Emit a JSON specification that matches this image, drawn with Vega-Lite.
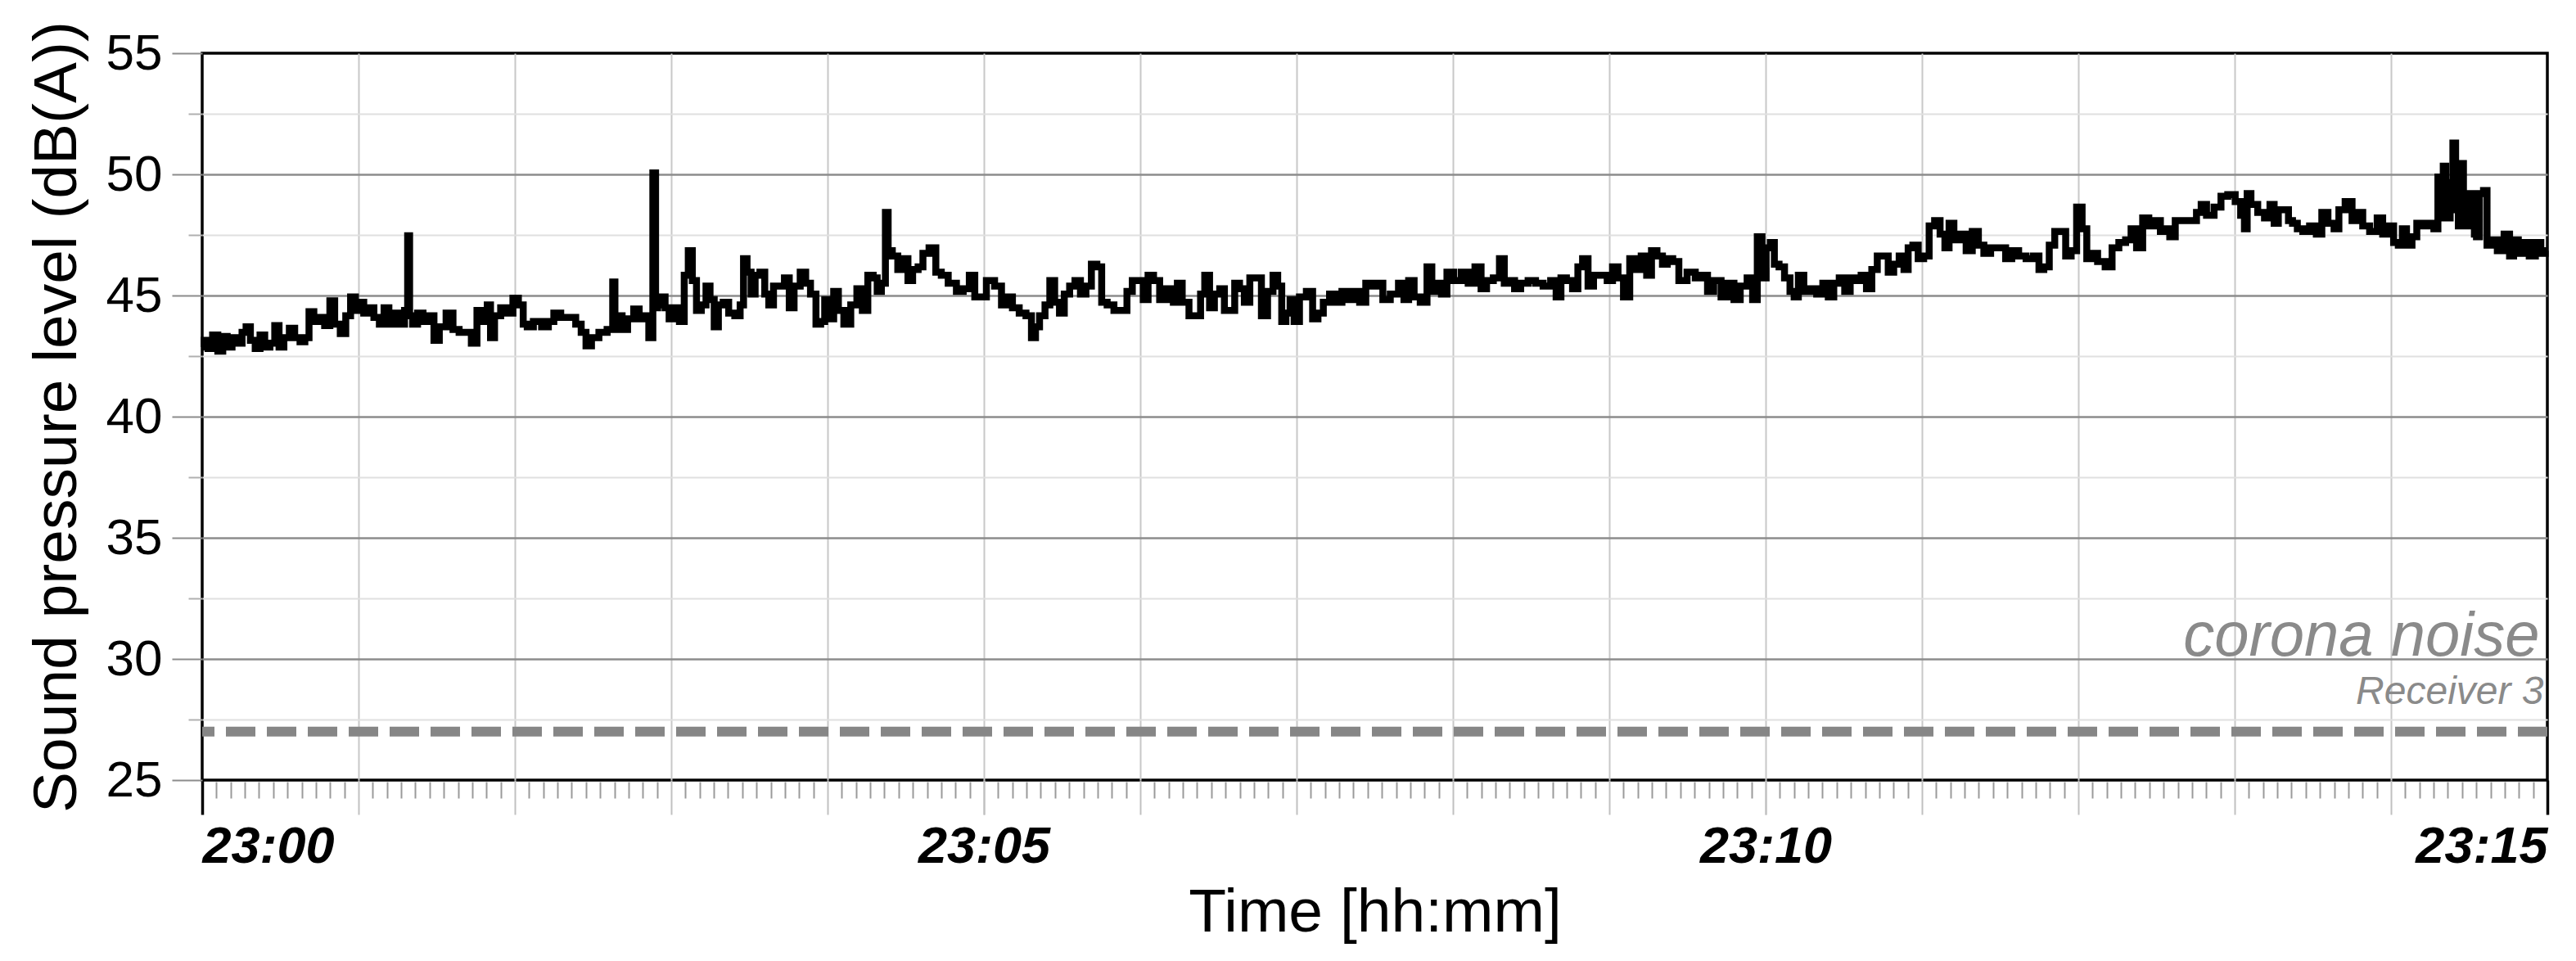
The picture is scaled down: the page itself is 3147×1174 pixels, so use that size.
{
"$schema": "https://vega.github.io/schema/vega-lite/v6.json",
"width": 2865, "height": 888,
"autosize": {"type": "none"},
"padding": {"left": 247, "top": 65, "right": 35, "bottom": 221},
"background": "white",
"config": {"view": {"stroke": "black", "strokeWidth": 3.5}, "font": "Liberation Sans", "axis": {"labelFont": "Liberation Sans", "titleFont": "Liberation Sans"}},
"datasets": {"spl": [
{"t":0,"v":42.87},{"t":1.5,"v":43.15},{"t":3,"v":42.81},{"t":5,"v":43.37},{"t":7,"v":42.70},{"t":8.8,"v":43.31},{"t":10.4,"v":42.87},{"t":12.5,"v":43.26},{"t":14.6,"v":43.03},{"t":16,"v":43.48},{"t":17.7,"v":43.71},{"t":19.3,"v":43.15},{"t":21.4,"v":42.81},{"t":23,"v":43.37},{"t":25,"v":42.87},{"t":27,"v":43.03},{"t":28.7,"v":43.76},{"t":30.3,"v":42.87},{"t":32.4,"v":43.26},{"t":34.5,"v":43.65},{"t":36.5,"v":43.26},{"t":38.6,"v":43.09},{"t":40.2,"v":43.26},{"t":41.8,"v":44.33},{"t":43.9,"v":43.93},{"t":46,"v":44.10},{"t":48,"v":43.76},{"t":50,"v":44.78},{"t":51.7,"v":43.82},{"t":54.3,"v":43.43},{"t":55.9,"v":44.16},{"t":58,"v":44.94},{"t":59.6,"v":44.38},{"t":61.2,"v":44.72},{"t":62.8,"v":44.27},{"t":64.8,"v":44.49},{"t":67,"v":44.10},{"t":69,"v":43.82},{"t":70.6,"v":44.49},{"t":72.7,"v":43.82},{"t":74.7,"v":44.27},{"t":76.9,"v":43.82},{"t":78.4,"v":44.38},{"t":79.3,"v":47.47},{"t":79.9,"v":44.16},{"t":81.6,"v":43.82},{"t":83.7,"v":44.27},{"t":85.8,"v":43.93},{"t":87.9,"v":44.16},{"t":90,"v":43.15},{"t":92,"v":43.71},{"t":95.2,"v":44.27},{"t":97.3,"v":43.60},{"t":99.9,"v":43.48},{"t":102.5,"v":43.48},{"t":104.1,"v":43.03},{"t":106.8,"v":44.38},{"t":108.9,"v":43.93},{"t":109.9,"v":44.61},{"t":111.4,"v":43.26},{"t":113,"v":44.16},{"t":116.1,"v":44.49},{"t":118.2,"v":44.27},{"t":120.3,"v":44.89},{"t":122.4,"v":44.61},{"t":124,"v":43.82},{"t":125.5,"v":43.71},{"t":128.7,"v":43.93},{"t":131.8,"v":43.71},{"t":133.9,"v":43.93},{"t":136,"v":44.27},{"t":139.2,"v":44.10},{"t":142.3,"v":44.10},{"t":144.4,"v":43.82},{"t":146.5,"v":43.48},{"t":148.1,"v":42.92},{"t":150.7,"v":43.26},{"t":153.8,"v":43.48},{"t":157,"v":43.60},{"t":158.1,"v":45.56},{"t":158.7,"v":43.60},{"t":160.1,"v":44.16},{"t":162.2,"v":43.60},{"t":164.3,"v":44.04},{"t":166.9,"v":44.44},{"t":168.5,"v":44.04},{"t":170.6,"v":44.16},{"t":172.2,"v":43.26},{"t":173.7,"v":50.06},{"t":174.3,"v":44.49},{"t":175.3,"v":44.61},{"t":176.9,"v":44.94},{"t":178.4,"v":44.49},{"t":180,"v":44.04},{"t":182.1,"v":44.49},{"t":184.2,"v":43.93},{"t":185.8,"v":45.84},{"t":187.3,"v":46.85},{"t":188.9,"v":45.62},{"t":190.5,"v":44.38},{"t":192.6,"v":44.61},{"t":194.1,"v":45.39},{"t":195.7,"v":44.83},{"t":197.3,"v":43.71},{"t":198.9,"v":44.61},{"t":201,"v":44.72},{"t":203.1,"v":44.27},{"t":205.7,"v":44.16},{"t":207.2,"v":44.61},{"t":208.3,"v":46.52},{"t":209.9,"v":45.96},{"t":211.4,"v":45.06},{"t":213,"v":45.84},{"t":215.1,"v":45.96},{"t":216.7,"v":45.06},{"t":218.2,"v":44.61},{"t":220.3,"v":45.39},{"t":222.4,"v":45.39},{"t":224.5,"v":45.73},{"t":226.1,"v":44.49},{"t":228.2,"v":45.39},{"t":230.8,"v":45.96},{"t":232.4,"v":45.51},{"t":234.5,"v":45.06},{"t":236.6,"v":43.82},{"t":238.1,"v":43.93},{"t":239.7,"v":44.83},{"t":241.3,"v":44.04},{"t":243.4,"v":45.17},{"t":244.9,"v":44.38},{"t":247.6,"v":43.82},{"t":250.2,"v":44.61},{"t":252.3,"v":45.28},{"t":254.4,"v":44.38},{"t":256.5,"v":45.84},{"t":258.5,"v":45.73},{"t":259.6,"v":45.17},{"t":261.7,"v":45.51},{"t":262.7,"v":48.43},{"t":263.8,"v":46.85},{"t":265.9,"v":46.63},{"t":268,"v":46.07},{"t":270.1,"v":46.52},{"t":271.6,"v":45.62},{"t":273.7,"v":46.07},{"t":275.8,"v":46.18},{"t":277.4,"v":46.74},{"t":280.5,"v":46.97},{"t":282.6,"v":45.96},{"t":284.7,"v":45.84},{"t":287.9,"v":45.51},{"t":291,"v":45.17},{"t":293.1,"v":45.28},{"t":295.7,"v":45.84},{"t":297.3,"v":44.94},{"t":299.4,"v":44.94},{"t":302.5,"v":45.62},{"t":305.7,"v":45.39},{"t":307.8,"v":44.61},{"t":309.9,"v":44.94},{"t":312,"v":44.49},{"t":315.1,"v":44.27},{"t":317.2,"v":44.16},{"t":319.3,"v":43.26},{"t":320.3,"v":43.71},{"t":322.4,"v":44.16},{"t":324.5,"v":44.61},{"t":326.1,"v":45.62},{"t":328.2,"v":44.72},{"t":329.8,"v":44.27},{"t":331.9,"v":45.06},{"t":333.9,"v":45.39},{"t":336,"v":45.62},{"t":338.1,"v":45.06},{"t":340.2,"v":45.39},{"t":342.3,"v":46.29},{"t":344.4,"v":46.18},{"t":346,"v":44.72},{"t":348.6,"v":44.61},{"t":351.2,"v":44.38},{"t":353.9,"v":44.38},{"t":355.9,"v":45.17},{"t":358,"v":45.62},{"t":360.1,"v":45.62},{"t":362.2,"v":44.83},{"t":363.8,"v":45.84},{"t":366.4,"v":45.62},{"t":368.5,"v":44.83},{"t":371.7,"v":45.28},{"t":373.7,"v":44.72},{"t":374.8,"v":45.51},{"t":377.4,"v":44.72},{"t":380,"v":44.16},{"t":382.6,"v":44.16},{"t":383.7,"v":45.06},{"t":385.8,"v":45.84},{"t":387.4,"v":44.49},{"t":389.5,"v":45.06},{"t":391.5,"v":45.28},{"t":393.1,"v":44.38},{"t":395.2,"v":44.38},{"t":397.3,"v":45.51},{"t":398.9,"v":45.28},{"t":401,"v":44.72},{"t":403.1,"v":45.73},{"t":405.2,"v":45.73},{"t":407.8,"v":44.16},{"t":409.9,"v":45.17},{"t":412,"v":45.84},{"t":413.5,"v":45.39},{"t":415.1,"v":43.93},{"t":416.7,"v":44.27},{"t":418.3,"v":44.83},{"t":419.8,"v":43.93},{"t":422.4,"v":44.94},{"t":425.1,"v":45.17},{"t":427.2,"v":44.04},{"t":429.2,"v":44.27},{"t":431.3,"v":44.72},{"t":434,"v":45.06},{"t":436.1,"v":44.72},{"t":438.7,"v":45.17},{"t":440.8,"v":44.83},{"t":442.9,"v":45.17},{"t":445.5,"v":44.72},{"t":447.6,"v":45.51},{"t":450.2,"v":45.39},{"t":451.8,"v":45.51},{"t":454.4,"v":44.83},{"t":457.5,"v":45.06},{"t":460.7,"v":45.51},{"t":461.7,"v":44.83},{"t":464.3,"v":45.62},{"t":465.9,"v":44.94},{"t":469,"v":44.72},{"t":471.1,"v":46.18},{"t":472.7,"v":45.17},{"t":474.8,"v":45.51},{"t":476.4,"v":45.06},{"t":479,"v":45.96},{"t":481.6,"v":45.62},{"t":484.8,"v":45.96},{"t":486.9,"v":45.51},{"t":490,"v":46.18},{"t":491.6,"v":45.28},{"t":494.2,"v":45.62},{"t":496.8,"v":45.73},{"t":498.9,"v":46.52},{"t":500.5,"v":45.51},{"t":502.6,"v":45.62},{"t":504.7,"v":45.28},{"t":507.3,"v":45.51},{"t":510.4,"v":45.62},{"t":513,"v":45.51},{"t":516.2,"v":45.39},{"t":518.8,"v":45.62},{"t":520.4,"v":44.94},{"t":522.5,"v":45.73},{"t":524.6,"v":45.62},{"t":527.2,"v":45.28},{"t":528.7,"v":46.18},{"t":530.8,"v":46.52},{"t":532.9,"v":45.39},{"t":535,"v":45.84},{"t":538.2,"v":45.84},{"t":540.2,"v":45.62},{"t":542.3,"v":46.18},{"t":544.4,"v":45.73},{"t":546.5,"v":44.94},{"t":549.2,"v":46.52},{"t":551.2,"v":46.07},{"t":553.3,"v":46.63},{"t":555.4,"v":45.84},{"t":557,"v":46.85},{"t":559.6,"v":46.63},{"t":561.2,"v":46.29},{"t":563.3,"v":46.52},{"t":565.4,"v":46.40},{"t":568,"v":45.62},{"t":571.7,"v":45.96},{"t":574.3,"v":45.73},{"t":576.9,"v":45.84},{"t":578.5,"v":45.17},{"t":581.6,"v":45.62},{"t":584.2,"v":44.94},{"t":586.8,"v":45.51},{"t":588.9,"v":44.83},{"t":591.6,"v":45.39},{"t":594.2,"v":45.73},{"t":595.8,"v":44.83},{"t":597.8,"v":47.42},{"t":599.4,"v":45.73},{"t":601,"v":46.97},{"t":602.6,"v":47.19},{"t":604.1,"v":46.29},{"t":606.2,"v":46.18},{"t":608.3,"v":45.73},{"t":610.4,"v":45.17},{"t":611.5,"v":44.94},{"t":613.6,"v":45.84},{"t":615.7,"v":45.17},{"t":618.3,"v":45.28},{"t":620.9,"v":45.06},{"t":623,"v":45.51},{"t":625.1,"v":44.94},{"t":627.2,"v":45.51},{"t":629.3,"v":45.73},{"t":631.4,"v":45.17},{"t":633.5,"v":45.73},{"t":635.6,"v":45.62},{"t":637.7,"v":45.84},{"t":639.7,"v":45.28},{"t":641.8,"v":46.07},{"t":643.9,"v":46.63},{"t":646,"v":46.63},{"t":648.1,"v":45.96},{"t":650.2,"v":46.29},{"t":652.3,"v":46.63},{"t":653.9,"v":46.07},{"t":655.5,"v":46.97},{"t":657.5,"v":47.08},{"t":659.6,"v":46.52},{"t":661.7,"v":46.63},{"t":663.8,"v":47.87},{"t":665.9,"v":48.09},{"t":668,"v":47.53},{"t":669.6,"v":46.97},{"t":671.2,"v":47.98},{"t":673.3,"v":47.30},{"t":675.9,"v":47.53},{"t":678,"v":46.85},{"t":680.6,"v":47.64},{"t":682.7,"v":47.08},{"t":684.8,"v":46.74},{"t":687.9,"v":46.97},{"t":691.1,"v":46.97},{"t":693.1,"v":46.52},{"t":695.8,"v":46.85},{"t":698.4,"v":46.63},{"t":701.5,"v":46.52},{"t":704.1,"v":46.63},{"t":705.7,"v":46.07},{"t":707.8,"v":46.18},{"t":709.9,"v":47.08},{"t":712,"v":47.64},{"t":714.1,"v":47.64},{"t":716.2,"v":46.63},{"t":718.3,"v":46.85},{"t":720.4,"v":48.65},{"t":722.5,"v":47.75},{"t":724,"v":46.52},{"t":726.1,"v":46.74},{"t":728.7,"v":46.40},{"t":731.9,"v":46.18},{"t":734,"v":46.97},{"t":737.1,"v":47.19},{"t":739.2,"v":47.30},{"t":741.3,"v":47.75},{"t":743.4,"v":46.97},{"t":746,"v":48.20},{"t":748.1,"v":47.87},{"t":750.2,"v":48.09},{"t":752.8,"v":47.64},{"t":753.8,"v":47.75},{"t":756.4,"v":47.42},{"t":758,"v":48.09},{"t":761.1,"v":48.09},{"t":764.3,"v":48.09},{"t":766.4,"v":48.43},{"t":767.9,"v":48.76},{"t":770.5,"v":48.31},{"t":773.7,"v":48.65},{"t":775.8,"v":49.10},{"t":778.9,"v":49.16},{"t":781.5,"v":48.88},{"t":783.1,"v":48.31},{"t":784.4,"v":47.75},{"t":785.2,"v":49.21},{"t":787.3,"v":48.76},{"t":790.4,"v":48.43},{"t":792.5,"v":48.20},{"t":794.6,"v":48.76},{"t":795.7,"v":47.98},{"t":797.8,"v":48.54},{"t":799.9,"v":48.54},{"t":801.4,"v":48.09},{"t":803,"v":47.98},{"t":805.1,"v":47.75},{"t":807.2,"v":47.64},{"t":810.3,"v":47.87},{"t":812.4,"v":47.53},{"t":814.5,"v":48.43},{"t":817.1,"v":47.98},{"t":819.2,"v":47.75},{"t":820.8,"v":48.54},{"t":824,"v":48.88},{"t":826.1,"v":48.09},{"t":828.1,"v":48.43},{"t":830.2,"v":47.87},{"t":833.4,"v":47.64},{"t":836,"v":48.20},{"t":837.6,"v":47.53},{"t":840.2,"v":47.87},{"t":841.8,"v":47.19},{"t":843.8,"v":47.08},{"t":844.9,"v":47.75},{"t":847,"v":47.08},{"t":849.1,"v":47.42},{"t":850.7,"v":47.98},{"t":853.3,"v":47.87},{"t":855.4,"v":47.98},{"t":857.5,"v":47.75},{"t":858.5,"v":49.89},{"t":859.5,"v":48.20},{"t":860.6,"v":50.34},{"t":861.4,"v":49.10},{"t":862.2,"v":48.20},{"t":863.2,"v":49.66},{"t":864.3,"v":51.29},{"t":865.3,"v":48.54},{"t":866.4,"v":47.87},{"t":867.4,"v":50.45},{"t":868.2,"v":48.76},{"t":869,"v":49.21},{"t":870,"v":47.87},{"t":871.6,"v":49.21},{"t":872.4,"v":47.53},{"t":873.2,"v":47.42},{"t":874.7,"v":49.21},{"t":876.3,"v":49.33},{"t":877.4,"v":47.08},{"t":879.5,"v":47.30},{"t":882.1,"v":46.85},{"t":884.7,"v":47.53},{"t":886.3,"v":46.63},{"t":887.8,"v":47.30},{"t":889.9,"v":46.74},{"t":892,"v":47.19},{"t":894.1,"v":46.63},{"t":896.7,"v":47.19},{"t":898.3,"v":46.74},{"t":900,"v":46.85}
]},
"layer": [
{
"data": {"name": "spl"},
"mark": {"type": "line", "interpolate": "step", "color": "black", "strokeWidth": 8.5},
"encoding": {
"x": {"field": "t", "type": "quantitative", "scale": {"domain": [0, 900], "nice": false, "zero": false},
"axis": {"orient": "bottom", "values": [0, 300, 600, 900],
"labelExpr": "datum.value == 0 ? '23:00' : datum.value == 300 ? '23:05' : datum.value == 600 ? '23:10' : '23:15'",
"labelFlush": true, "labelOverlap": false, "labelFontSize": 63, "labelFontStyle": "italic", "labelFontWeight": "bold", "labelColor": "black", "labelPadding": 8,
"ticks": true, "tickSize": 42,
"tickColor": {"condition": {"test": "datum.value == 0 || datum.value == 900", "value": "black"}, "value": "#c0c0c0"},
"tickWidth": {"condition": {"test": "datum.value == 0 || datum.value == 900", "value": 3.5}, "value": 2},
"grid": false, "domain": false,
"title": "Time [hh:mm]", "titleFontSize": 75, "titleFontWeight": "normal", "titleColor": "black", "titleBaseline": "alphabetic", "titleY": 184, "titleX": 1432.5}},
"y": {"field": "v", "type": "quantitative", "scale": {"domain": [25, 55], "nice": false, "zero": false},
"axis": {"orient": "left", "values": [25, 30, 35, 40, 45, 50, 55], "grid": true, "gridColor": "#8c8c8c", "gridWidth": 2.5,
"gridOpacity": {"condition": {"test": "datum.value == 25 || datum.value == 55", "value": 0}, "value": 1},
"tickSize": 37, "tickColor": "#8c8c8c", "tickWidth": 2, "labelFontSize": 62, "labelColor": "black", "labelPadding": 12, "domain": false,
"title": "Sound pressure level (dB(A))", "titleFontSize": 75, "titleFontWeight": "normal", "titleColor": "black", "titleAngle": 270, "titleBaseline": "alphabetic", "titleX": -155, "titleY": 444, "titleAlign": "center"}}
}
},
{
"data": {"values": [{"c": 27}]},
"mark": {"type": "rule", "color": "#868686", "strokeWidth": 12, "strokeDash": [36, 14]},
"encoding": {
"y": {"field": "c", "type": "quantitative", "scale": {"domain": [25, 55], "nice": false, "zero": false},
"axis": {"orient": "left", "values": [27.5, 32.5, 37.5, 42.5, 47.5, 52.5], "grid": true, "gridColor": "#e0e0e0", "gridWidth": 2,
"tickSize": 17, "tickColor": "#b0b0b0", "tickWidth": 2, "labels": false, "domain": false, "title": null}}
}
},
{
"data": {"values": [{"t": 897, "v": 30.15, "label": "corona noise"}]},
"mark": {"type": "text", "align": "right", "baseline": "alphabetic", "fontSize": 76, "fontStyle": "italic", "color": "#8a8a8a", "font": "Liberation Sans"},
"encoding": {
"x": {"field": "t", "type": "quantitative", "scale": {"domain": [0, 900], "nice": false, "zero": false},
"axis": {"orient": "bottom", "values": [60,120,180,240,300,360,420,480,540,600,660,720,780,840], "grid": true, "gridColor": "#c8c8c8", "gridWidth": 2,
"ticks": true, "tickSize": 42, "tickColor": "#c0c0c0", "tickWidth": 2, "labels": false, "domain": false, "title": null}},
"y": {"field": "v", "type": "quantitative", "scale": {"domain": [25, 55], "nice": false, "zero": false}, "axis": null},
"text": {"field": "label"}
}
},
{
"data": {"values": [{"t": 898.6, "v": 28.14, "label": "Receiver 3"}]},
"mark": {"type": "text", "align": "right", "baseline": "alphabetic", "fontSize": 48, "fontStyle": "italic", "color": "#8a8a8a", "font": "Liberation Sans"},
"encoding": {
"x": {"field": "t", "type": "quantitative", "scale": {"domain": [0, 900], "nice": false, "zero": false},
"axis": {"orient": "bottom", "offset": 2, "values": [5.45,10.91,16.36,21.82,27.27,32.73,38.18,43.64,49.09,54.55,65.45,70.91,76.36,81.82,87.27,92.73,98.18,103.64,109.09,114.55,125.45,130.91,136.36,141.82,147.27,152.73,158.18,163.64,169.09,174.55,185.45,190.91,196.36,201.82,207.27,212.73,218.18,223.64,229.09,234.55,245.45,250.91,256.36,261.82,267.27,272.73,278.18,283.64,289.09,294.55,305.45,310.91,316.36,321.82,327.27,332.73,338.18,343.64,349.09,354.55,365.45,370.91,376.36,381.82,387.27,392.73,398.18,403.64,409.09,414.55,425.45,430.91,436.36,441.82,447.27,452.73,458.18,463.64,469.09,474.55,485.45,490.91,496.36,501.82,507.27,512.73,518.18,523.64,529.09,534.55,545.45,550.91,556.36,561.82,567.27,572.73,578.18,583.64,589.09,594.55,605.45,610.91,616.36,621.82,627.27,632.73,638.18,643.64,649.09,654.55,665.45,670.91,676.36,681.82,687.27,692.73,698.18,703.64,709.09,714.55,725.45,730.91,736.36,741.82,747.27,752.73,758.18,763.64,769.09,774.55,785.45,790.91,796.36,801.82,807.27,812.73,818.18,823.64,829.09,834.55,845.45,850.91,856.36,861.82,867.27,872.73,878.18,883.64,889.09,894.55],
"grid": false, "ticks": true, "tickSize": 20, "tickColor": "#9a9a9a", "tickWidth": 2, "labels": false, "domain": false, "title": null}},
"y": {"field": "v", "type": "quantitative", "scale": {"domain": [25, 55], "nice": false, "zero": false}, "axis": null},
"text": {"field": "label"}
}
}
],
"resolve": {"axis": {"x": "independent", "y": "independent"}}
}
